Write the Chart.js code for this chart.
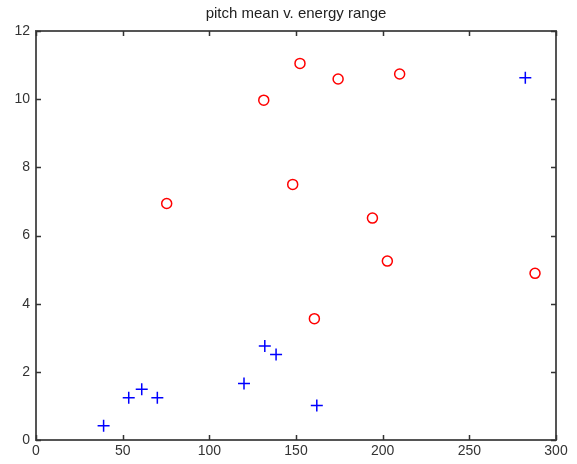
<!DOCTYPE html>
<html>
<head>
<meta charset="utf-8">
<script src="https://cdn.jsdelivr.net/npm/chart.js@4/dist/chart.umd.min.js"></script>
<style>
  body { margin: 0; background: #fff; }
  canvas { display: block; }
</style>
</head>
<body>
<canvas id="canvas" width="577" height="464"></canvas>
<script>

let title = 'pitch mean v. energy range';

// blue plus markers
let plusX = [39, 53.5, 61, 70, 120, 132, 138.5, 162, 282.3];
let plusY = [0.42, 1.24, 1.49, 1.24, 1.66, 2.76, 2.51, 1.01, 10.63];

// red circle markers
let circleX = [75.4, 131.4, 148.1, 152.3, 160.6, 174.3, 194.1, 202.7, 209.8, 287.9];
let circleY = [6.94, 9.97, 7.5, 11.05, 3.56, 10.59, 6.51, 5.25, 10.74, 4.89];

let xTicks = [0, 50, 100, 150, 200, 250, 300];
let yTicks = [0, 2, 4, 6, 8, 10, 12];

let axisColor = '#555555';

function toPoints(xs, ys) {
  let pts = [];
  for (let i = 0; i < xs.length; i++) {
    pts.push({x: xs[i], y: ys[i]});
  }
  return pts;
}

// box, inward ticks and title, matlab style
let framePlugin = {
  id: 'frame',
  afterDraw: function(chart) {
    let ctx = chart.ctx;
    let a = chart.chartArea;
    let xs = chart.scales.x;
    let ys = chart.scales.y;
    let len = 5;
    ctx.save();
    ctx.strokeStyle = axisColor;
    ctx.lineWidth = 2;
    ctx.strokeRect(a.left, a.top, a.right - a.left, a.bottom - a.top);
    ctx.lineWidth = 1.5;
    ctx.strokeStyle = '#333';
    ctx.beginPath();
    for (let t of xTicks) {
      let px = Math.round(xs.getPixelForValue(t)) + 0.5;
      ctx.moveTo(px, a.bottom); ctx.lineTo(px, a.bottom - len);
      ctx.moveTo(px, a.top); ctx.lineTo(px, a.top + len);
    }
    for (let t of yTicks) {
      let py = Math.round(ys.getPixelForValue(t)) + 0.5;
      ctx.moveTo(a.left, py); ctx.lineTo(a.left + len, py);
      ctx.moveTo(a.right, py); ctx.lineTo(a.right - len, py);
    }
    ctx.stroke();

    ctx.fillStyle = '#222';
    ctx.font = '15px "Liberation Sans", Arial, sans-serif';
    ctx.textAlign = 'center';
    ctx.textBaseline = 'middle';
    ctx.fillText(title, (a.left + a.right) / 2, 14);
    ctx.restore();
  }
};

let options = {
  type: 'scatter',
  data: {
    datasets: [
      {
        data: toPoints(plusX, plusY),
        pointStyle: 'cross',
        pointRadius: 6,
        borderColor: 'rgb(0,0,255)',
        borderWidth: 1.5
      },
      {
        data: toPoints(circleX, circleY),
        pointStyle: 'circle',
        pointRadius: 5,
        backgroundColor: 'rgba(0,0,0,0)',
        borderColor: 'rgb(255,0,0)',
        borderWidth: 1.5
      }
    ]
  },
  options: {
    responsive: false,
    animation: false,
    layout: {
      autoPadding: false,
      padding: {left: 0, right: 21, top: 31, bottom: 0}
    },
    plugins: {
      legend: {display: false},
      tooltip: {enabled: false}
    },
    scales: {
      x: {
        type: 'linear',
        min: 0,
        max: 300,
        afterFit: function(scale) { scale.height = 24; },
        afterBuildTicks: function(scale) {
          scale.ticks = xTicks.map(function(v) { return {value: v}; });
        },
        grid: {display: false, drawTicks: false},
        border: {display: false},
        ticks: {
          padding: 3,
          color: '#333',
          font: {family: '"Liberation Sans", Arial, sans-serif', size: 14},
          maxRotation: 0
        }
      },
      y: {
        type: 'linear',
        min: 0,
        max: 12,
        afterFit: function(scale) { scale.width = 36; },
        afterBuildTicks: function(scale) {
          scale.ticks = yTicks.map(function(v) { return {value: v}; });
        },
        grid: {display: false, drawTicks: false},
        border: {display: false},
        ticks: {
          padding: 6,
          color: '#333',
          font: {family: '"Liberation Sans", Arial, sans-serif', size: 14}
        }
      }
    }
  },
  plugins: [framePlugin]
};

let chart = new Chart(document.getElementById('canvas'), options);

</script>
</body>
</html>
